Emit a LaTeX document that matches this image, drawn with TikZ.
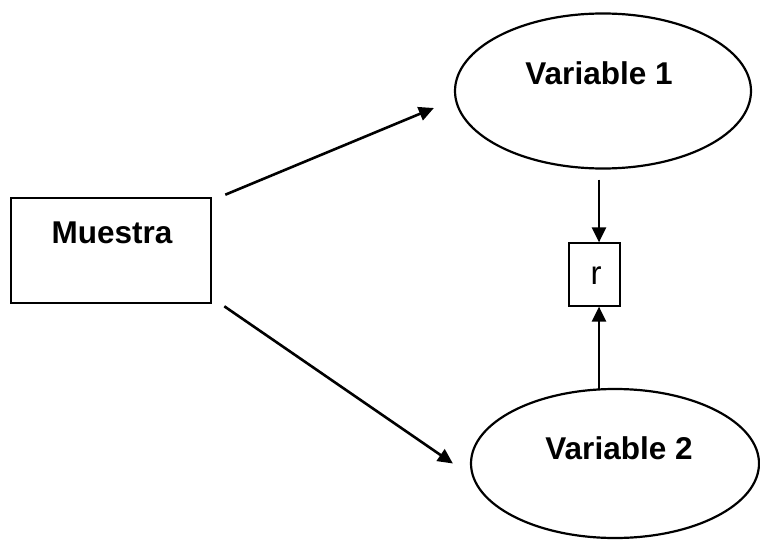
\documentclass[tikz,border=0pt]{standalone}
\usepackage{fontspec}
\setmainfont{Liberation Sans}
\usetikzlibrary{shapes.geometric,arrows.meta}
\begin{document}
\begin{tikzpicture}[x=1pt,y=-1pt,
  boxshape/.style={draw=black,line width=2.6pt,rectangle,inner sep=0pt},
  ellshape/.style={draw=black,line width=2.2pt,ellipse,inner sep=0pt},
  rbox/.style={draw=black,line width=1.2pt,rectangle,inner sep=0pt,minimum width=51pt,minimum height=63pt},
  boldlabel/.style={anchor=base,inner sep=0pt,font=\fontsize{31.5}{37}\selectfont\bfseries},
  rlabel/.style={anchor=base,inner sep=0pt,font=\fontsize{33}{39}\selectfont},
  arr/.style={line width=2.6pt,-{Triangle[length=15pt,width=14pt]}}]
\useasboundingbox[fill=white] (0,0) rectangle (760,540);
% shapes
\node[boxshape,minimum width=200pt,minimum height=105pt] (muestra) at (111,250.5) {};
\node[ellshape,minimum width=296pt,minimum height=155pt] (v1) at (603,91) {};
\node[ellshape,minimum width=288pt,minimum height=149pt] (v2) at (615,463.5) {};
\node[rbox] (r) at (594.5,274.5) {};
% labels
\node[boldlabel] (tm) at (112,243) {Muestra};
\node[boldlabel] (t1) at (599,85) {Variable 1};
\node[boldlabel] (t2) at (619,459) {Variable 2};
\node[rlabel] (tr) at (596,284) {r};
% connectors
\draw[arr] ([xshift=13pt,yshift=2pt]muestra.north east) -- ([xshift=-20pt,yshift=-17pt]v1.west);
\draw[arr] ([xshift=12pt,yshift=-2pt]muestra.south east) -- ([xshift=-17pt]v2.west);
\draw[arr] ([xshift=-4pt,yshift=-10pt]v1.south) -- ([xshift=4.5pt]r.north);
\draw[arr] ([xshift=-16pt,yshift=-2pt]v2.north) -- ([xshift=4.5pt]r.south);
\end{tikzpicture}
\end{document}
